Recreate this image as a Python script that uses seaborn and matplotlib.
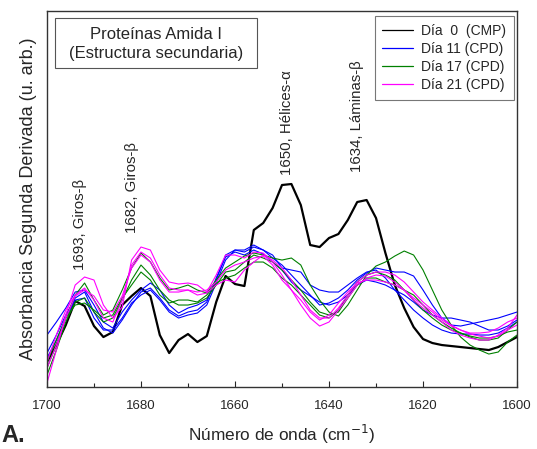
import numpy as np
import matplotlib
matplotlib.use("Agg")
import matplotlib.pyplot as plt
import seaborn as sns
from matplotlib.ticker import MultipleLocator
from matplotlib.patches import Rectangle

# ---------------------------------------------
# Data (second-derivative spectra, arbitrary units)
# ---------------------------------------------
wavenumber = [1700, 1698, 1696, 1694, 1692, 1690, 1688, 1686, 1684, 1682,
              1680, 1678, 1676, 1674, 1672, 1670, 1668, 1666, 1664, 1662,
              1660, 1658, 1656, 1654, 1652, 1650, 1648, 1646, 1644, 1642,
              1640, 1638, 1636, 1634, 1632, 1630, 1628, 1626, 1624, 1622,
              1620, 1618, 1616, 1614, 1612, 1610, 1608, 1606, 1604, 1602, 1600]

dia0 = [25, 42, 62, 86, 81, 61, 50, 55, 82, 91,
        99, 91, 52, 34, 47, 53, 45, 51, 85, 111,
        103, 101, 157, 164, 179, 202, 203, 182, 142, 140,
        149, 153, 167, 185, 187, 169, 134, 102, 79, 60,
        48, 44, 42, 41, 40, 39, 38, 37, 40, 45, 50]

dia11_a = [52, 65, 79, 95, 97, 82, 65, 59, 75, 87,
           97, 104, 97, 82, 74, 79, 82, 87, 107, 132,
           137, 135, 140, 137, 129, 122, 112, 102, 92, 82,
           84, 89, 97, 107, 114, 119, 117, 115, 115, 111,
           97, 82, 69, 62, 61, 63, 65, 67, 69, 72, 75]
dia11_b = [34, 52, 72, 89, 95, 75, 59, 54, 67, 82,
           95, 99, 89, 77, 71, 75, 77, 85, 109, 130,
           135, 132, 137, 133, 125, 117, 105, 97, 91, 85,
           82, 85, 92, 102, 107, 105, 102, 97, 92, 85,
           77, 72, 69, 69, 67, 65, 61, 57, 57, 61, 67]
dia11_c = [29, 47, 69, 87, 89, 69, 57, 57, 69, 84,
           92, 97, 87, 75, 69, 72, 74, 82, 104, 127,
           137, 137, 142, 137, 132, 119, 117, 115, 102, 97,
           95, 95, 102, 109, 115, 117, 109, 97, 87, 77,
           69, 62, 57, 54, 53, 53, 52, 52, 54, 59, 65]

dia17_a = [19, 42, 69, 92, 104, 87, 72, 77, 97, 119,
           134, 125, 109, 97, 99, 102, 97, 94, 107, 119,
           125, 131, 134, 132, 129, 127, 129, 122, 102, 87,
           75, 71, 82, 97, 112, 121, 125, 131, 136, 132,
           117, 97, 77, 62, 50, 42, 37, 33, 35, 45, 52]
dia17_b = [12, 37, 65, 85, 89, 75, 65, 69, 87, 107,
           122, 112, 97, 87, 82, 82, 84, 89, 102, 115,
           117, 125, 132, 129, 125, 117, 107, 97, 85, 75,
           72, 75, 89, 102, 109, 109, 105, 102, 97, 92,
           82, 72, 65, 59, 54, 50, 47, 47, 49, 57, 65]
dia17_c = [25, 47, 69, 82, 84, 77, 69, 72, 89, 102,
           115, 107, 92, 84, 87, 87, 85, 92, 104, 109,
           112, 119, 125, 125, 119, 109, 102, 92, 82, 72,
           69, 77, 92, 105, 112, 115, 112, 107, 97, 87,
           77, 69, 62, 57, 54, 51, 49, 49, 51, 55, 57]

dia21_a = [4, 37, 72, 102, 110, 107, 82, 69, 80, 127,
           140, 137, 117, 105, 103, 104, 102, 95, 112, 132,
           132, 129, 135, 134, 125, 112, 97, 82, 69, 61,
           65, 77, 89, 102, 109, 112, 111, 105, 97, 87,
           79, 72, 65, 57, 52, 49, 47, 47, 52, 59, 72]
dia21_b = [25, 52, 77, 92, 99, 87, 69, 65, 87, 122,
           135, 129, 112, 99, 97, 97, 92, 94, 102, 107,
           105, 117, 125, 132, 127, 119, 107, 92, 77, 69,
           69, 79, 92, 105, 112, 115, 115, 112, 105, 95,
           85, 77, 69, 62, 57, 53, 51, 49, 51, 57, 62]
dia21_c = [19, 42, 69, 91, 97, 91, 77, 75, 91, 119,
           132, 125, 107, 95, 95, 97, 95, 97, 105, 117,
           122, 125, 129, 131, 122, 107, 97, 87, 75, 67,
           72, 84, 95, 104, 107, 107, 105, 102, 97, 89,
           82, 75, 67, 61, 57, 54, 54, 55, 59, 65, 69]

groups = [
    ('Día  0  (CMP)', 'black', [dia0]),
    ('Día 11 (CPD)', '#0000ff', [dia11_a, dia11_b, dia11_c]),
    ('Día 17 (CPD)', '#008000', [dia17_a, dia17_b, dia17_c]),
    ('Día 21 (CPD)', '#ff00ff', [dia21_a, dia21_b, dia21_c]),
]

bands = [(1693, 117, '1693, Giros-β'),
         (1682, 154, '1682, Giros-β'),
         (1649, 212, '1650, Hélices-α'),
         (1634, 215, '1634, Láminas-β')]

# ---------------------------------------------
# Plot
# ---------------------------------------------
sns.set_style('white')
plt.rcParams['font.family'] = ['Liberation Sans', 'DejaVu Sans']

fig = plt.figure(figsize=(5.37, 4.49), dpi=100)
ax = fig.add_axes([0.0875, 0.138, 0.8753, 0.8375])

for label, color, series in groups:
    for i, vals in enumerate(series):
        lw = 1.6 if color == 'black' else 0.8
        sns.lineplot(x=wavenumber, y=vals, color=color, lw=lw, ax=ax,
                     label=label if i == 0 else None)

ax.set_xlim(1700, 1600)
ax.set_ylim(0, 376)
ax.set_yticks([])
ax.xaxis.set_major_locator(MultipleLocator(20))
ax.xaxis.set_minor_locator(MultipleLocator(10))
ax.tick_params(axis='x', which='both', direction='in', bottom=True, top=False,
               labelsize=9.5, pad=9)
ax.tick_params(axis='x', which='major', length=4, width=0.8)
ax.tick_params(axis='x', which='minor', length=3, width=0.8)
for sp in ax.spines.values():
    sp.set_linewidth(1.0)
    sp.set_color('#333333')

ax.set_xlabel('Número de onda (cm$^{-1}$)', fontsize=12.4, labelpad=8)
ax.set_ylabel('Absorbancia Segunda Derivada (u. arb.)', fontsize=13, labelpad=7)

for x, y, txt in bands:
    ax.text(x, y, txt, rotation=90, ha='center', va='bottom', fontsize=10.8)

# title box
ax.add_patch(Rectangle((0.017, 0.848), 0.43, 0.133, transform=ax.transAxes,
                       fc='white', ec='#555555', lw=0.8, zorder=4))
ax.text(0.232, 0.913, 'Proteínas Amida I\n(Estructura secundaria)',
        transform=ax.transAxes, ha='center', va='center', fontsize=12,
        linespacing=1.3, zorder=5)

leg = ax.legend(loc='upper right', bbox_to_anchor=(0.9936, 0.9867),
                borderaxespad=0, fontsize=10,
                frameon=True, fancybox=False, edgecolor='#555555',
                handlelength=2.2, handletextpad=0.6, labelspacing=0.3,
                borderpad=0.55)
leg.get_frame().set_linewidth(0.8)
for h in leg.get_lines():
    h.set_linewidth(0.9)

fig.text(0.002, 0.004, 'A.', fontsize=17, fontweight='bold', ha='left', va='bottom')

fig.savefig('out.png', dpi=100)
